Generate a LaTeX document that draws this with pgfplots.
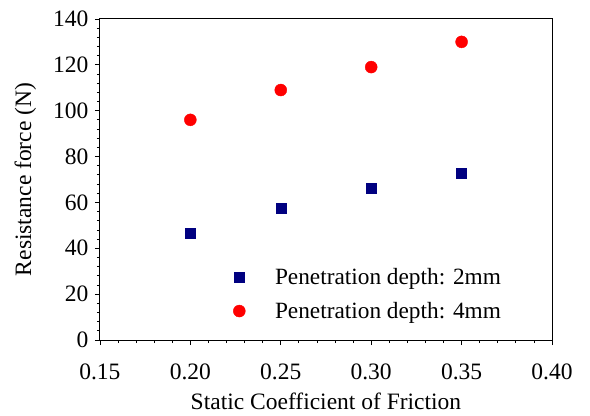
\documentclass[border=0pt]{standalone}
\usepackage{pgfplots}
\pgfplotsset{compat=1.18}
\usepackage{fontspec}
\setmainfont{Liberation Serif}
\definecolor{navyb}{RGB}{0,0,128}
\definecolor{redc}{RGB}{255,0,0}
\begin{document}
\begin{tikzpicture}
\begin{axis}[
  scale only axis,
  width=452pt, height=321pt,
  xmin=0.15, xmax=0.40, ymin=0, ymax=140,
  xtick={0.15,0.20,0.25,0.30,0.35,0.40},
  ytick={0,20,40,60,80,100,120,140},
  minor x tick num=4, minor y tick num=4,
  tick align=outside,
  xtick pos=bottom, ytick pos=left,
  major tick length=5pt, minor tick length=3pt,
  x tick label style={/pgf/number format/.cd, fixed, fixed zerofill, precision=2, /tikz/.cd, yshift=-15pt},
  y tick label style={xshift=-3pt},
  /pgf/number format/assume math mode=true,
  tick label style={font=\fontsize{23.5}{27}\selectfont},
  label style={font=\fontsize{23.5}{27}\selectfont},
  xlabel={Static Coefficient of Friction},
  ylabel={Resistance force (N)},
  xlabel style={inner sep=0.5pt, yshift=-9pt},
  ylabel style={yshift=10pt},
  axis line style={line width=0.9pt},
  every tick/.style={black, line width=0.8pt},
  clip=false,
  legend image code/.code={\path (0pt,0pt) (42pt,0pt); \draw[mark repeat=2,mark phase=2,#1] plot coordinates {(0pt,0pt)(8.5pt,0pt)(42pt,0pt)};},
  legend style={draw=none, fill=none, at={(axis cs:0.2205,33)}, anchor=north west,
    font=\fontsize{23.3}{27}\selectfont, row sep=12pt, legend cell align=left},
]
\addplot[only marks, mark=square*, mark size=5pt, color=navyb] coordinates {
  (0.20,46.6) (0.25,57.6) (0.30,66.4) (0.35,72.7)
};
\addlegendentry{Penetration depth: 2mm}
\addplot[only marks, mark=*, mark size=6pt, color=redc] coordinates {
  (0.20,96) (0.25,109) (0.30,119) (0.35,130)
};
\addlegendentry{Penetration depth: 4mm}
\path[draw=none] (rel axis cs:-0.221,-0.234) rectangle (rel axis cs:1.084,1.059);
\end{axis}
\end{tikzpicture}
\end{document}
